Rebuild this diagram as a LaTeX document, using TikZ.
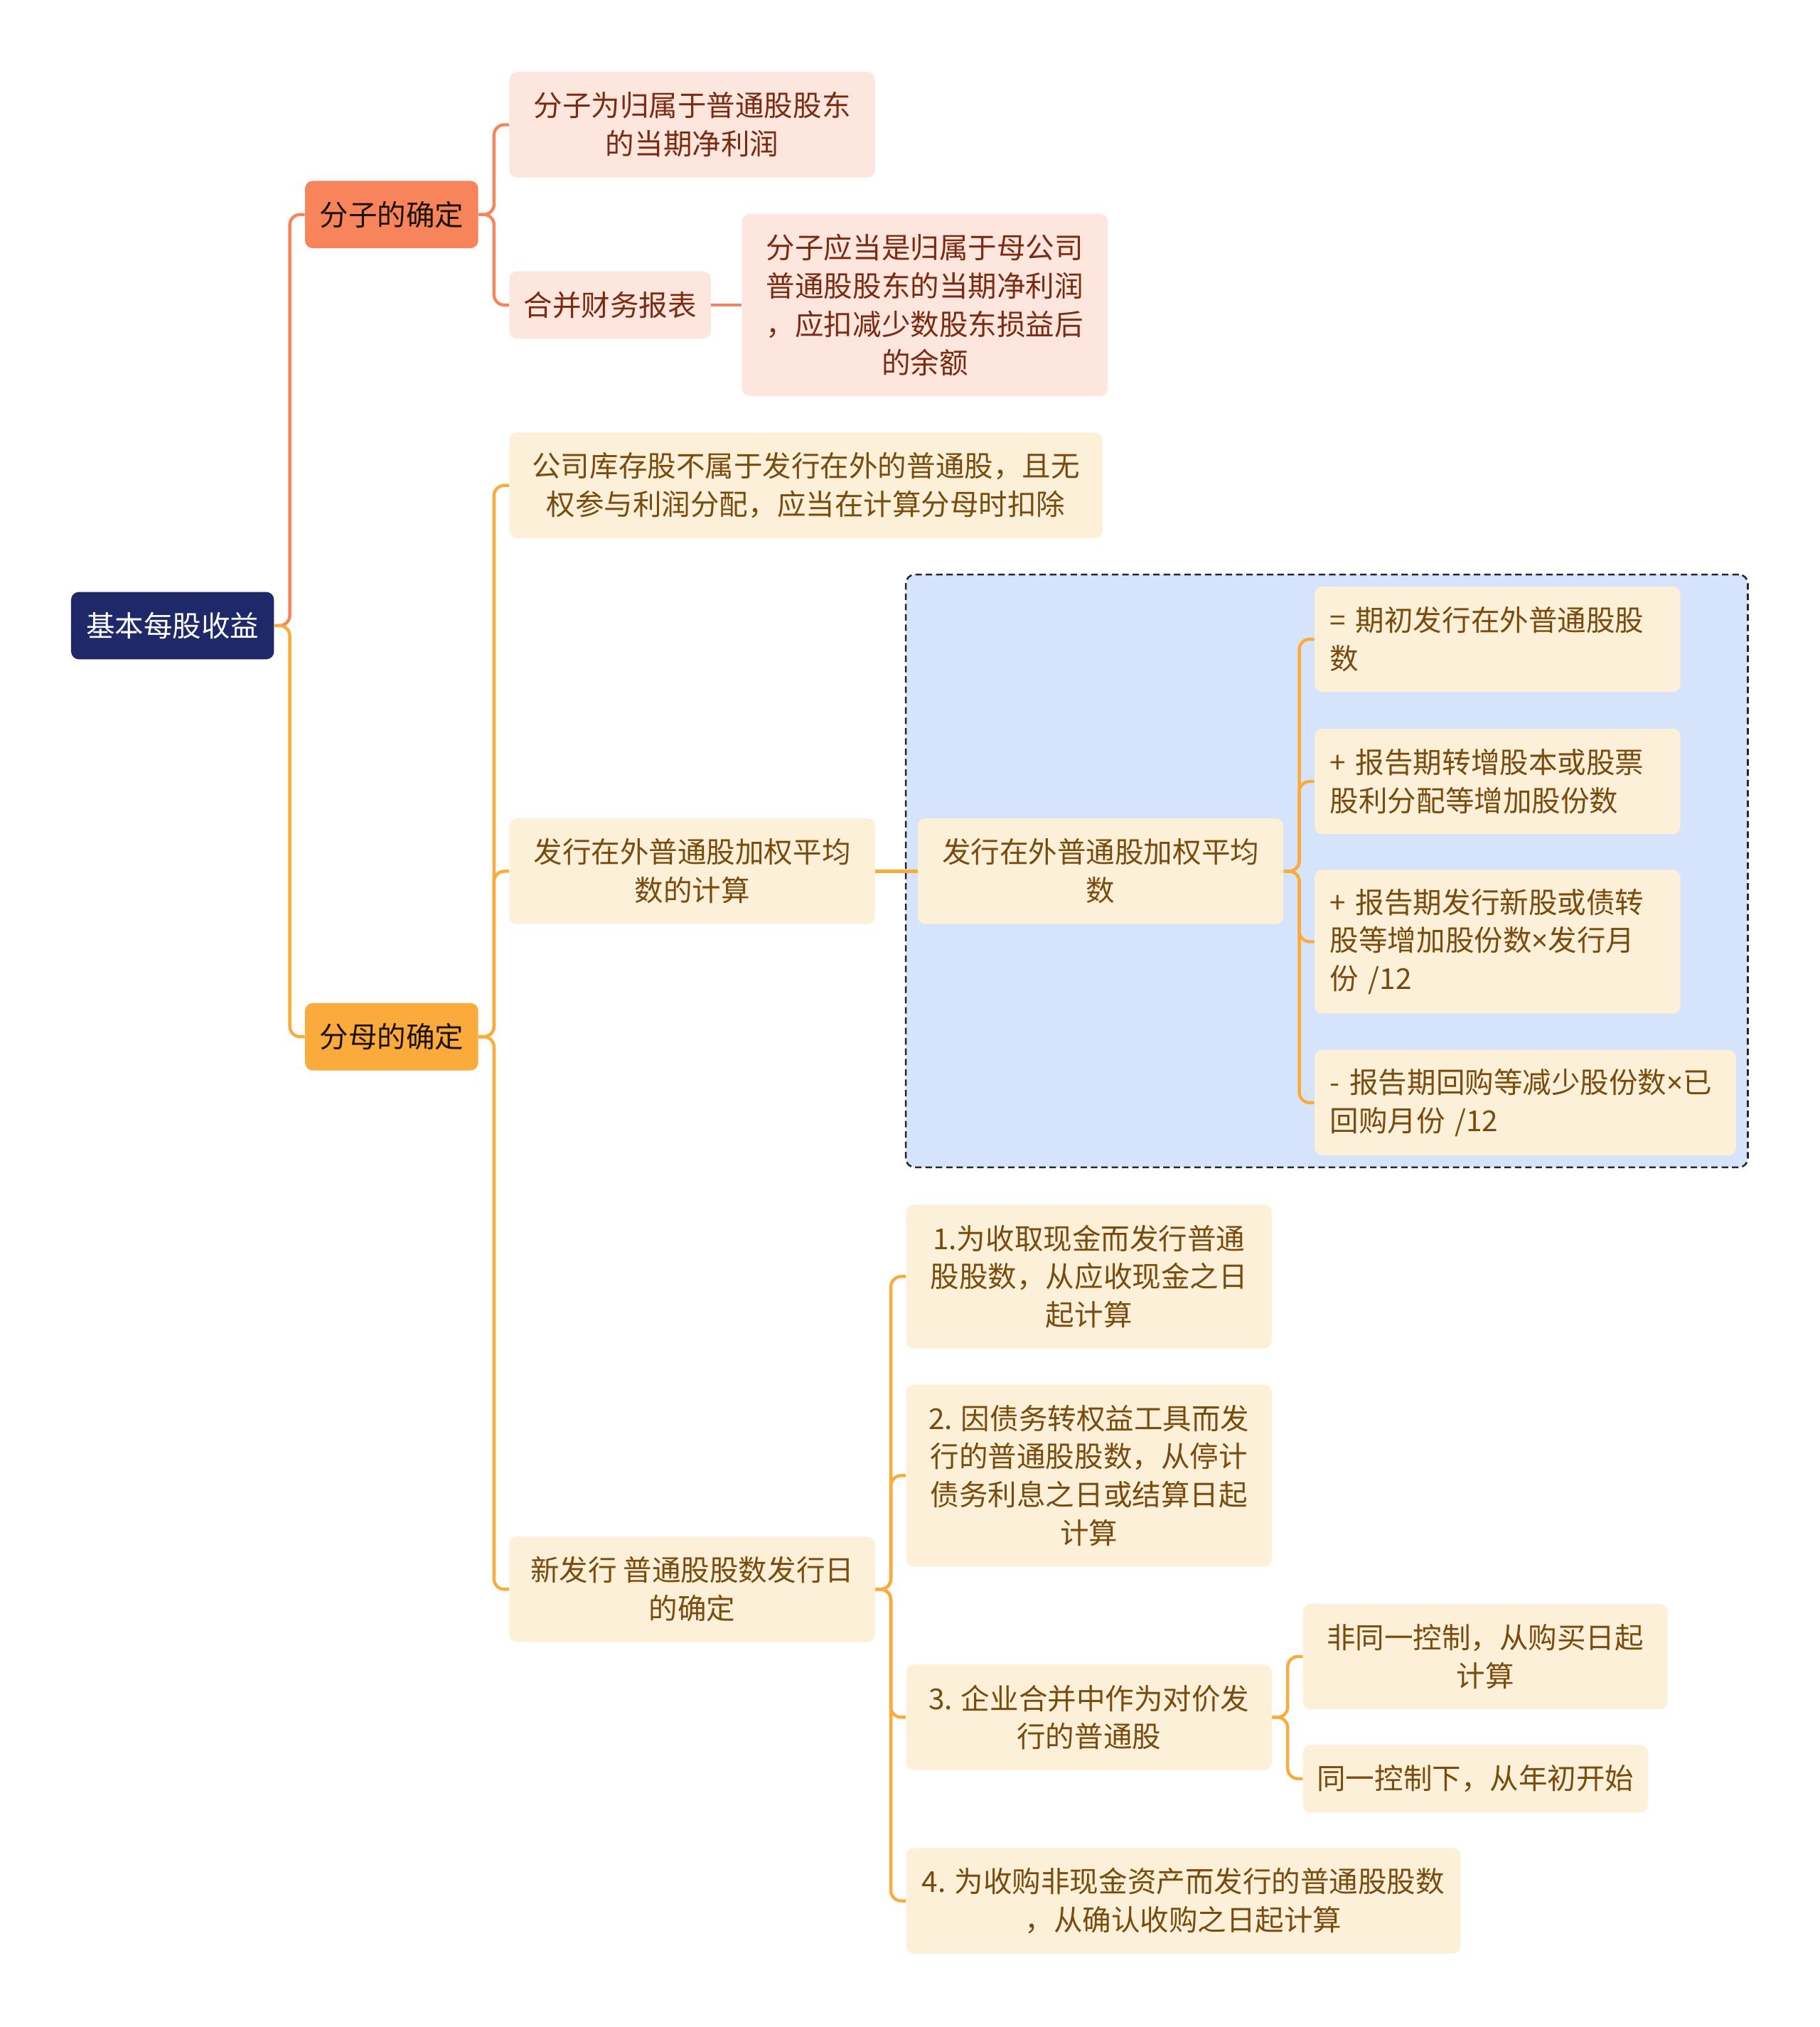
\documentclass[tikz,border=0pt]{standalone}
\usepackage{fontspec}
\setmainfont{Noto Sans CJK SC}
\newfontfamily\latinfont{Noto Sans}
\usetikzlibrary{fit,backgrounds}

\definecolor{rootfill}{HTML}{1F2868}
\definecolor{coral}{HTML}{F7845A}
\definecolor{amber}{HTML}{FBAB3B}
\definecolor{pinkfill}{HTML}{FDE6DD}
\definecolor{pinktext}{HTML}{7C2B12}
\definecolor{creamfill}{HTML}{FDF0D8}
\definecolor{creamtext}{HTML}{7A4B0F}
\definecolor{groupfill}{HTML}{D6E4FB}

\newcommand{\mul}{{\latinfont ×}}

\tikzset{
  wh/.style 2 args={minimum width=#1pt, minimum height=#2*29.6pt+22.5pt},
  box/.style={rounded corners=6pt, inner sep=0pt, align=center},
  rootbox/.style={box, fill=rootfill, text=white},
  fzbox/.style={box, fill=coral, text=black!85!brown},
  fmbox/.style={box, fill=amber, text=black!85!brown},
  pinkbox/.style={box, fill=pinkfill, text=pinktext},
  creambox/.style={box, fill=creamfill, text=creamtext},
  leftbox/.style={creambox, align=left, inner xsep=12pt},
  coralline/.style={draw=coral, line width=2.4pt, rounded corners=8pt},
  amberline/.style={draw=amber, line width=2.4pt, rounded corners=8pt},
}

\begin{document}
\begin{tikzpicture}[x=1pt, y=-1pt, font=\fontsize{22.3pt}{29.6pt}\selectfont]
  \useasboundingbox (0,0) rectangle (1408,1568.1);

  % root and first level
  \node[rootbox, wh={157}{1}] (root) at (133.5,484) {基本每股收益};
  \node[fzbox, wh={134}{1}] (fz) at (303,166) {分子的确定};
  \node[fmbox, wh={134}{1}] (fm) at (303,802) {分母的确定};

  % numerator
  \node[pinkbox, wh={283}{2}] (fz1) at (535.5,96.5) {分子为归属于普通股股东\\的当期净利润};
  \node[pinkbox, wh={156}{1}] (fz2) at (472,236) {合并财务报表};
  \node[pinkbox, wh={283}{4}] (fz21) at (715.5,236)
    {分子应当是归属于母公司\\普通股股东的当期净利润\\，应扣减少数股东损益后\\的余额};

  % denominator
  \node[creambox, wh={459}{2}] (fm1) at (623.5,375.5)
    {公司库存股不属于发行在外的普通股，且无\\权参与利润分配，应当在计算分母时扣除};
  \node[creambox, wh={283}{2}] (fm2) at (535.5,674) {发行在外普通股加权平均\\数的计算};
  \node[creambox, wh={283}{2}] (wa) at (851.5,674) {发行在外普通股加权平均\\数};
  \node[leftbox, text width=259pt, wh={283}{2}] (wa1) at (1158.5,494.5) {=~期初发行在外普通股股\\数};
  \node[leftbox, text width=259pt, wh={283}{2}] (wa2) at (1158.5,604.5) {+~报告期转增股本或股票\\股利分配等增加股份数};
  \node[leftbox, text width=259pt, wh={283}{3}] (wa3) at (1158.5,728.5)
    {+~报告期发行新股或债转\\股等增加股份数\mul 发行月\\份~/12};
  \node[leftbox, text width=302pt, wh={326}{2}] (wa4) at (1180,853) {\mbox{-}~报告期回购等减少股份数\mul 已\\回购月份~/12};

  \node[creambox, wh={283}{2}] (fm3) at (535.5,1229.5) {新发行 普通股股数发行日\\的确定};
  \node[creambox, wh={283}{3}] (nd1) at (842.5,987.5) {1.为收取现金而发行普通\\股股数，从应收现金之日\\起计算};
  \node[creambox, wh={283}{4}] (nd2) at (842.5,1141.5)
    {2. 因债务转权益工具而发\\行的普通股股数，从停计\\债务利息之日或结算日起\\计算};
  \node[creambox, wh={283}{2}] (nd3) at (842.5,1328.5) {3. 企业合并中作为对价发\\行的普通股};
  \node[creambox, wh={282}{2}] (nd31) at (1149,1281.5) {非同一控制，从购买日起\\计算};
  \node[creambox, wh={267}{1}] (nd32) at (1141.5,1376) {同一控制下，从年初开始};
  \node[creambox, wh={429}{2}] (nd4) at (915.5,1470.5) {4. 为收购非现金资产而发行的普通股股数\\，从确认收购之日起计算};

  % dashed group behind the weighted average
  \begin{scope}[on background layer]
    \node[fill=groupfill, draw=black!85, line width=1.4pt, dash pattern=on 5pt off 3pt,
      rounded corners=7pt, inner sep=9pt, fit=(wa)(wa1)(wa4)] (group) {};
  \end{scope}

  % connectors
  \draw[coralline] (root.east) -- ++(12,0) |- (fz.west);
  \draw[amberline] (root.east) -- ++(12,0) |- (fm.west);
  \foreach \c in {fz1,fz2}
    \draw[coralline] (fz.east) -- ++(12,0) |- (\c.west);
  \draw[coralline] (fz2.east) -- (fz21.west);
  \foreach \c in {fm1,fm2,fm3}
    \draw[amberline] (fm.east) -- ++(12,0) |- (\c.west);
  \draw[amberline] (fm2.east) -- (wa.west);
  \foreach \c in {wa1,wa2,wa3,wa4}
    \draw[amberline] (wa.east) -- ++(12,0) |- (\c.west);
  \foreach \c in {nd1,nd2,nd3,nd4}
    \draw[amberline] (fm3.east) -- ++(12,0) |- (\c.west);
  \foreach \c in {nd31,nd32}
    \draw[amberline] (nd3.east) -- ++(12,0) |- (\c.west);
\end{tikzpicture}
\end{document}
